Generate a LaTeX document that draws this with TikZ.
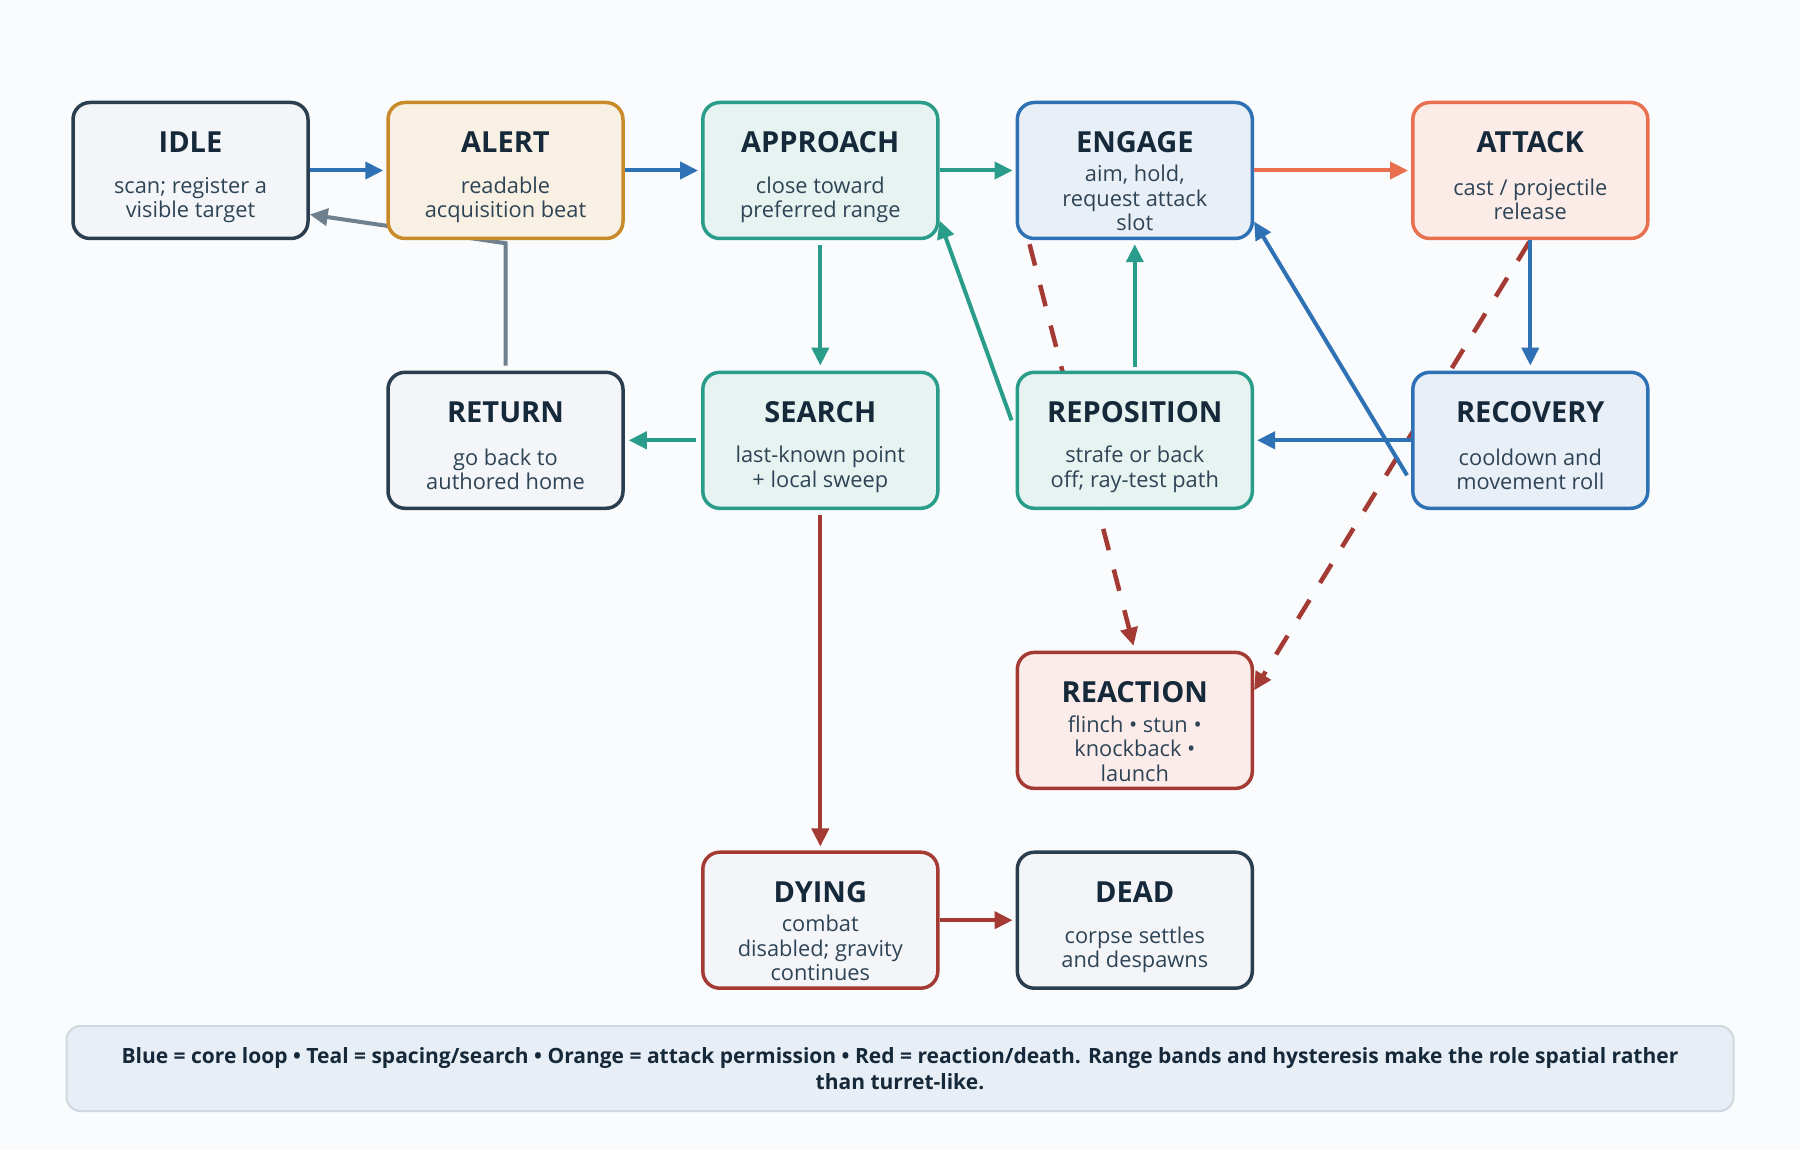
\documentclass[tikz,border=0pt]{standalone}
\usepackage{fontspec}
\setmainfont{Open Sans}
\usetikzlibrary{arrows.meta}
\pgfdeclarelayer{back}
\pgfdeclarelayer{bg}
\pgfsetlayers{back,bg,main}
\definecolor{pagebg}{HTML}{F9FBFD}
\definecolor{navy}{HTML}{2B3E50}
\definecolor{grayfill}{HTML}{F3F5F8}
\definecolor{gold}{HTML}{C98A2A}
\definecolor{goldfill}{HTML}{F8F0E2}
\definecolor{teal}{HTML}{2A9D8A}
\definecolor{tealfill}{HTML}{E6F3F0}
\definecolor{blu}{HTML}{2E72B5}
\definecolor{blufill}{HTML}{E8EFF7}
\definecolor{coral}{HTML}{E8704F}
\definecolor{coralfill}{HTML}{FBECE7}
\definecolor{rred}{HTML}{A33A33}
\definecolor{redfill}{HTML}{FBECE9}
\definecolor{gline}{HTML}{6E7F8D}
\definecolor{titlecol}{HTML}{15293A}
\definecolor{bodycol}{HTML}{2E4456}
\definecolor{legfill}{HTML}{E8EEF5}
\definecolor{legdraw}{HTML}{CFD7E0}
% name, x, y, border, fill, title, body, body offset
\newcommand\mkstate[8]{%
  \node[statebox, draw=#4, fill=#5] (#1) at (#2,#3) {};
  \node[ttl] (#1-t) at ([shift={(0,-28.5)}]#1.center) {#6};
  \node[bdy] (#1-b) at ([shift={(0,#8)}]#1.center) {#7};
}
\tikzset{
  statebox/.style={rounded corners=17pt, minimum width=235pt, minimum height=136pt, line width=3.5pt, inner sep=0pt},
  ttl/.style={font=\fontsize{29}{34}\selectfont\bfseries, text=titlecol, inner sep=0pt},
  bdy/.style={font=\fontsize{21.8}{24.5}\selectfont, text=bodycol, align=center, inner sep=0pt},
  arr/.style={-{Triangle[length=18pt,width=17pt]}, line width=4pt},
  dsh/.style={-{Triangle[length=18pt,width=17pt]}, line width=4.5pt, dash pattern=on 22pt off 20pt},
  legendbox/.style={rounded corners=14pt, minimum width=1667pt, minimum height=85pt, line width=2pt, draw=legdraw, fill=legfill, align=center, text=titlecol, font=\fontsize{21}{26.5}\selectfont\bfseries}
}
\begin{document}
\begin{tikzpicture}[x=1pt,y=-1pt]
\begin{pgfonlayer}{back}
\fill[pagebg] (0,0) rectangle (1800,1150);
\end{pgfonlayer}
\useasboundingbox (0,0) rectangle (1800,1150);
\mkstate{idle}{190.5}{170.5}{navy}{grayfill}{IDLE}{scan; register a\\visible target}{29.5}
\mkstate{alert}{505.5}{170.5}{gold}{goldfill}{ALERT}{readable\\acquisition beat}{29.5}
\mkstate{approach}{820.3}{170.5}{teal}{tealfill}{APPROACH}{close toward\\preferred range}{29.5}
\mkstate{engage}{1134.8}{170.5}{blu}{blufill}{ENGAGE}{aim, hold,\\request attack\\slot}{27.5}
\mkstate{attack}{1530.3}{170.5}{coral}{coralfill}{ATTACK}{cast / projectile\\release}{29}
\mkstate{return}{505.5}{440.3}{navy}{grayfill}{RETURN}{go back to\\authored home}{29}
\mkstate{search}{820.3}{440.3}{teal}{tealfill}{SEARCH}{last-known point\\+ local sweep}{29}
\mkstate{reposition}{1134.8}{440.3}{teal}{tealfill}{REPOSITION}{strafe or back\\off; ray-test path}{29}
\mkstate{recovery}{1530.3}{440.3}{blu}{blufill}{RECOVERY}{cooldown and\\movement roll}{29}
\mkstate{reaction}{1134.8}{720.4}{rred}{redfill}{REACTION}{\fontsize{21.8}{22.5}\selectfont flinch • stun •\\knockback •\\launch}{28}
\mkstate{dying}{820.3}{920.2}{rred}{grayfill}{DYING}{combat\\disabled; gravity\\continues}{28}
\mkstate{dead}{1134.8}{920.2}{navy}{grayfill}{DEAD}{corpse settles\\and despawns}{29.5}
\node[legendbox] (legend) at (900,1068.5) {Blue = core loop • Teal = spacing/search • Orange = attack permission • Red = reaction/death. Range bands and hysteresis make the role spatial rather\\than turret-like.};
\coordinate (retbend) at ([shift={(0,3)}]alert.south);
\begin{pgfonlayer}{bg}
\draw[arr, gline, shorten <=5pt] (return.north) -- (retbend) -- ([shift={(0,44)}]idle.east);
\draw[dsh, rred, shorten >=5pt] ([shift={(14,4)}]engage.south west) -- (reaction.north);
\draw[dsh, rred, shorten <=2pt] (attack.south) -- ([shift={(0,-30)}]reaction.east);
\end{pgfonlayer}
\draw[arr, blu, shorten >=3pt] (idle.east) -- (alert.west);
\draw[arr, blu, shorten >=3pt] (alert.east) -- (approach.west);
\draw[arr, teal, shorten >=3pt] (approach.east) -- (engage.west);
\draw[arr, coral, shorten >=3pt] (engage.east) -- (attack.west);
\draw[arr, blu, shorten >=5pt] (attack.south) -- (recovery.north);
\draw[arr, blu, shorten >=3pt] (recovery.west) -- (reposition.east);
\draw[arr, blu] ([shift={(-4,35)}]recovery.west) -- ([shift={(0,51)}]engage.east);
\draw[arr, teal, shorten <=4pt, shorten >=4pt] (reposition.north) -- (engage.south);
\draw[arr, teal] ([shift={(-4,-20)}]reposition.west) -- ([shift={(0,50)}]approach.east);
\draw[arr, teal, shorten <=5pt, shorten >=5pt] (approach.south) -- (search.north);
\draw[arr, teal, shorten <=5pt, shorten >=4pt] (search.west) -- (return.east);
\draw[arr, rred, shorten <=5pt, shorten >=4pt] (search.south) -- (dying.north);
\draw[arr, rred, shorten >=3pt] (dying.east) -- (dead.west);
\end{tikzpicture}
\end{document}
